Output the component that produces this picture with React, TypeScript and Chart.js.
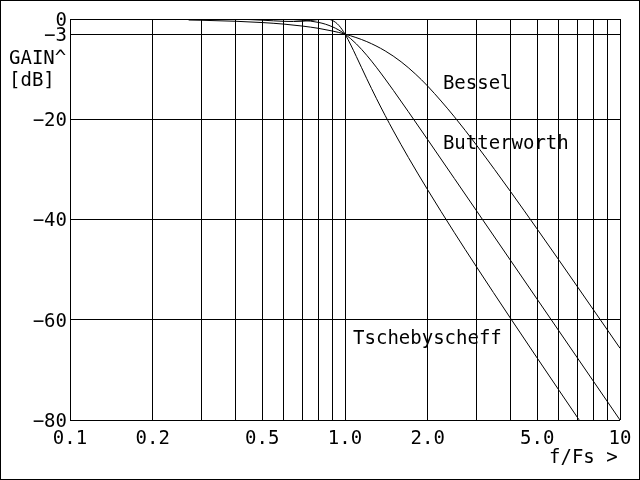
import React, { useEffect, useRef } from "react";
import { Chart, registerables } from "chart.js";

Chart.register(...registerables);

// Frequency (f/Fs) and gain (dB) values
const besselFreq = [0.27, 0.3, 0.4, 0.5, 0.6, 0.7, 0.8, 0.9, 1.0, 1.2, 1.4, 1.6, 1.8, 2.0, 2.5, 3, 3.5, 4, 5, 6, 7, 8, 9, 10];
const besselGain = [-0.2, -0.25, -0.45, -0.71, -1.02, -1.41, -1.86, -2.4, -3.01, -4.51, -6.37, -8.54, -10.93, -13.41, -19.52, -25.09, -30.04, -34.43, -41.92, -48.12, -53.4, -57.99, -62.04, -65.68];

const butterFreq = [0.27, 0.4, 0.5, 0.6, 0.7, 0.8, 0.85, 0.9, 0.95, 1.0, 1.1, 1.2, 1.3, 1.4, 1.5, 1.7, 2.0, 2.5, 3, 4, 5, 6, 7, 8, 9, 10];
const butterGain = [0.0, -0.003, -0.017, -0.072, -0.243, -0.674, -1.046, -1.555, -2.209, -3.01, -4.974, -7.243, -9.617, -11.975, -14.254, -18.498, -24.099, -31.838, -38.17, -48.165, -55.918, -62.253, -67.608, -72.248, -76.339, -80.0];

const tschebFreq = [0.27, 0.3, 0.35, 0.4, 0.45, 0.5, 0.55, 0.6, 0.65, 0.7, 0.75, 0.8, 0.85, 0.9, 0.95, 1.0, 1.05, 1.1, 1.2, 1.3, 1.4, 1.5, 1.7, 2.0, 2.5, 3, 4, 5, 6, 7, 7.1];
const tschebGain = [-0.07, -0.029, 0.0, -0.03, -0.114, -0.236, -0.364, -0.464, -0.5, -0.446, -0.298, -0.101, -0.002, -0.289, -1.279, -3.01, -5.19, -7.5, -11.92, -15.82, -19.26, -22.33, -27.62, -34.12, -42.63, -49.35, -59.72, -67.64, -74.07, -79.48, -79.97];

// Axis grid and tick labels
const xGridValues = [0.1, 0.2, 0.3, 0.4, 0.5, 0.6, 0.7, 0.8, 0.9, 1, 2, 3, 4, 5, 6, 7, 8, 9, 10];
const xTickValues = [0.1, 0.2, 0.5, 1, 2, 5, 10];
const xTickLabels = ["0.1", "0.2", "0.5", "1.0", "2.0", "5.0", "10"];
const yTickValues = [0, -3, -20, -40, -60, -80];
const yTickLabels = ["0", "\u22123", "\u221220", "\u221240", "\u221260", "\u221280"];

// Curve labels (anchored in data coordinates)
const curveLabels = ["Bessel", "Butterworth", "Tschebyscheff"];
const curveLabelFreq = [2.27, 2.27, 1.07];
const curveLabelGain = [-13.97, -25.94, -64.84];

const FONT = "'DejaVu Sans Mono', monospace";

export default function App() {
  const ref = useRef<HTMLCanvasElement | null>(null);

  useEffect(() => {
    const canvas = ref.current;
    if (!canvas) return;

    const textPlugin = {
      id: "extraText",
      afterDraw(chart: any) {
        const ctx = chart.ctx as CanvasRenderingContext2D;
        const xs = chart.scales.x;
        const ys = chart.scales.y;
        ctx.save();
        ctx.fillStyle = "#000";
        ctx.font = `19px ${FONT}`;
        ctx.textBaseline = "alphabetic";
        ctx.textAlign = "left";
        curveLabels.forEach((t, i) => {
          ctx.fillText(t, xs.getPixelForValue(curveLabelFreq[i]), ys.getPixelForValue(curveLabelGain[i]));
        });
        ctx.fillText("GAIN^", 9, 64);
        ctx.fillText("[dB]", 9, 86);
        ctx.fillText("f/Fs >", 549, 463);
        ctx.strokeStyle = "#000";
        ctx.lineWidth = 1;
        ctx.strokeRect(0.5, 0.5, chart.width - 1, chart.height - 1);
        ctx.restore();
      },
    };

    const mk = (label: string, fr: number[], g: number[]) => ({
      label,
      data: fr.map((f, i) => ({ x: f, y: g[i] })),
      borderColor: "#000",
      borderWidth: 1,
      pointRadius: 0,
      fill: false,
      cubicInterpolationMode: "monotone" as const,
    });

    const chart = new Chart(canvas, {
      type: "line",
      data: {
        datasets: [
          mk("Bessel", besselFreq, besselGain),
          mk("Butterworth", butterFreq, butterGain),
          mk("Tschebyscheff", tschebFreq, tschebGain),
        ],
      },
      options: {
        animation: false,
        responsive: false,
        devicePixelRatio: 1,
        layout: { padding: { left: 0, top: 19, right: 20, bottom: 0 } },
        plugins: { legend: { display: false }, tooltip: { enabled: false } },
        scales: {
          x: {
            type: "logarithmic",
            min: 0.1,
            max: 10,
            afterBuildTicks: (s: any) => {
              s.ticks = xGridValues.map((v) => ({ value: v }));
            },
            afterFit: (s: any) => {
              s.height = 60;
            },
            ticks: {
              autoSkip: false,
              maxRotation: 0,
              padding: 8,
              color: "#000",
              font: { family: FONT, size: 19 },
              callback: (v: any) => {
                const i = xTickValues.findIndex((t) => Math.abs(t - Number(v)) < 1e-9);
                return i >= 0 ? xTickLabels[i] : "";
              },
            },
            grid: { color: "#000", lineWidth: 1, drawTicks: false },
            border: { display: false },
          },
          y: {
            type: "linear",
            min: -80,
            max: 0,
            afterBuildTicks: (s: any) => {
              s.ticks = yTickValues.map((v) => ({ value: v }));
            },
            afterFit: (s: any) => {
              s.width = 70;
            },
            ticks: {
              autoSkip: false,
              padding: 3,
              labelOffset: 2,
              color: "#000",
              font: { family: FONT, size: 19 },
              callback: (v: any) => {
                const i = yTickValues.findIndex((t) => Math.abs(t - Number(v)) < 1e-9);
                return i >= 0 ? yTickLabels[i] : "";
              },
            },
            grid: { color: "#000", lineWidth: 1, drawTicks: false },
            border: { display: false },
          },
        },
      },
      plugins: [textPlugin],
    });

    return () => chart.destroy();
  }, []);

  return (
    <div style={{ position: "absolute", left: 0, top: 0, width: 640, height: 480, background: "#fff" }}>
      <canvas ref={ref} width={640} height={480} style={{ display: "block" }} />
    </div>
  );
}
